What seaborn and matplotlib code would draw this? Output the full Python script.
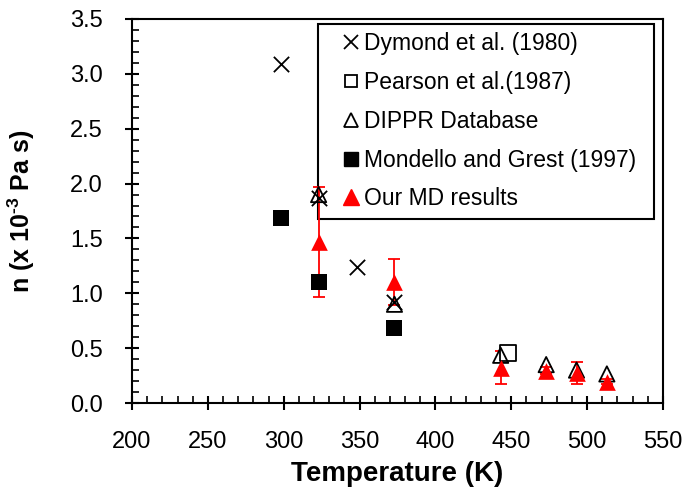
import matplotlib
matplotlib.use("Agg")
import matplotlib.pyplot as plt
import seaborn as sns
import numpy as np
import pandas as pd
from matplotlib.ticker import MultipleLocator, FormatStrFormatter
from matplotlib.lines import Line2D

# ---- data ----
dymond_T = [298, 323, 348, 373]
dymond_n = [3.09, 1.87, 1.24, 0.92]

pearson_T = [448]
pearson_n = [0.46]

dippr_T = [323, 373, 443, 473, 493, 513]
dippr_n = [1.90, 0.90, 0.435, 0.35, 0.30, 0.265]

mondello_T = [298, 323, 373]
mondello_n = [1.69, 1.10, 0.68]

md_T = [323, 373, 443, 473, 493, 513]
md_n = [1.47, 1.10, 0.32, 0.295, 0.27, 0.195]
md_err = [0.50, 0.21, 0.15, 0.03, 0.10, 0.02]

labels = ["Dymond et al. (1980)", "Pearson et al.(1987)", "DIPPR Database",
          "Mondello and Grest (1997)", "Our MD results"]

sns.set_theme(style="white")
plt.rcParams['font.family'] = ['Liberation Sans', 'DejaVu Sans']
plt.rcParams['text.color'] = 'black'
plt.rcParams['axes.labelcolor'] = 'black'
plt.rcParams['xtick.color'] = 'black'
plt.rcParams['ytick.color'] = 'black'
plt.rcParams['mathtext.fontset'] = 'custom'
plt.rcParams['mathtext.bf'] = 'Liberation Sans:bold'
plt.rcParams['mathtext.rm'] = 'Liberation Sans:bold'
plt.rcParams['mathtext.default'] = 'bf'

fig = plt.figure(figsize=(6.85, 4.98), dpi=100)
ax = fig.add_axes([132/685, 1-403/498, 531/685, 384/498])

# error bars (under markers)
ax.errorbar(md_T, md_n, yerr=md_err, fmt='none', ecolor='red', elinewidth=1.3,
            capsize=4.5, capthick=1.3, zorder=1)

ms = 11
sns.scatterplot(x=dymond_T, y=dymond_n, ax=ax, marker='x', s=ms**2, color='black',
                linewidth=1.3, zorder=3)
sns.scatterplot(x=pearson_T, y=pearson_n, ax=ax, marker='s', s=ms**2, facecolor='white',
                edgecolor='black', linewidth=1.3, zorder=3)
sns.scatterplot(x=dippr_T, y=dippr_n, ax=ax, marker='^', s=ms**2, facecolor='none',
                edgecolor='black', linewidth=1.3, zorder=3)
sns.scatterplot(x=mondello_T, y=mondello_n, ax=ax, marker='s', s=12**2, color='black',
                edgecolor='black', linewidth=0, zorder=3)
sns.scatterplot(x=md_T, y=md_n, ax=ax, marker='^', s=12**2, color='red',
                edgecolor='red', linewidth=0, zorder=4)

ax.set_xlim(200, 550)
ax.set_ylim(0, 3.5)
ax.xaxis.set_major_locator(MultipleLocator(50))
ax.xaxis.set_minor_locator(MultipleLocator(10))
ax.yaxis.set_major_locator(MultipleLocator(0.5))
ax.yaxis.set_minor_locator(MultipleLocator(0.1))
ax.yaxis.set_major_formatter(FormatStrFormatter('%.1f'))

for s in ax.spines.values():
    s.set_color('black')
    s.set_linewidth(1.5)

ax.tick_params(axis='both', which='major', direction='inout', length=10, width=1.5,
               labelsize=17, colors='black',
               bottom=True, left=True, top=False, right=False)
ax.tick_params(axis='y', which='major', pad=16)
ax.tick_params(axis='x', which='major', pad=15)
ax.tick_params(axis='both', which='minor', direction='in', length=5, width=1.2,
               bottom=True, left=True, top=False, right=False)

ax.set_xlabel("Temperature (K)", fontsize=20, fontweight='bold', labelpad=6)
ax.set_ylabel("n (x 10$^{\\text{-3}}$ Pa s)", fontsize=18, fontweight='bold', labelpad=24)

handles = [
    Line2D([], [], linestyle='none', marker='x', markersize=10, color='black', markeredgewidth=1.3),
    Line2D([], [], linestyle='none', marker='s', markersize=9, markerfacecolor='white',
           markeredgecolor='black', markeredgewidth=1.3),
    Line2D([], [], linestyle='none', marker='^', markersize=10, markerfacecolor='none',
           markeredgecolor='black', markeredgewidth=1.3),
    Line2D([], [], linestyle='none', marker='s', markersize=10, color='black'),
    Line2D([], [], linestyle='none', marker='^', markersize=11, color='red'),
]
x0 = (318 - 132) / 531
w = (654 - 318) / 531
top = (403 - 24) / 384
leg = ax.legend(handles, labels, loc='upper left', bbox_to_anchor=(x0, top - 0.5, w, 0.5),
                mode='expand', borderaxespad=0, fontsize=16.5, frameon=True, fancybox=False,
                edgecolor='black', handlelength=2.2, handletextpad=-0.55,
                labelspacing=0.69, borderpad=0.36)
leg.get_frame().set_linewidth(1.5)
leg.get_frame().set_alpha(1)
leg.set_zorder(0.5)

fig.savefig("out.png", dpi=100)
